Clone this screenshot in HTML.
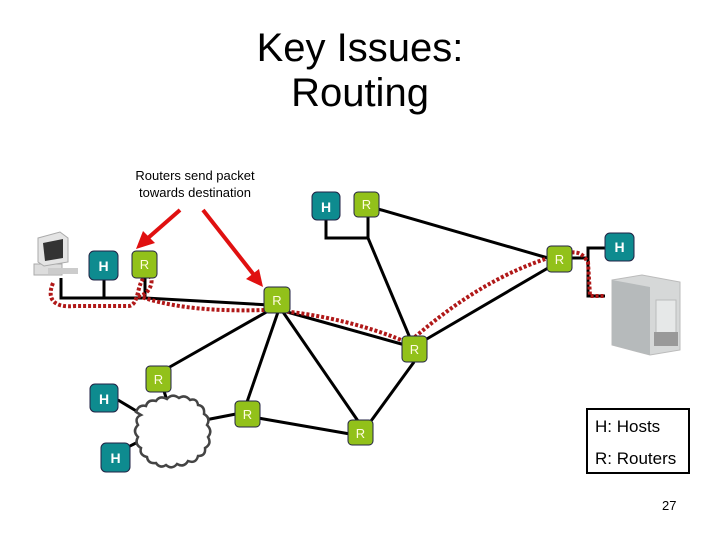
<!DOCTYPE html>
<html><head><meta charset="utf-8"><style>
html,body{margin:0;padding:0;background:#fff;}
svg{display:block;}
text{font-family:"Liberation Sans",sans-serif;}
</style></head><body>
<svg width="720" height="540" viewBox="0 0 720 540" xmlns="http://www.w3.org/2000/svg">
<rect width="720" height="540" fill="#fff"/>
<text x="360" y="61" font-size="40" text-anchor="middle">Key Issues:</text>
<text x="360" y="106" font-size="40" text-anchor="middle">Routing</text>
<text x="195" y="180" font-size="13" text-anchor="middle">Routers send packet</text>
<text x="195" y="197" font-size="13" text-anchor="middle">towards destination</text>

<!-- links -->
<g stroke="#000" stroke-width="3" fill="none">
<polyline points="61,278 61,298 145,298"/>
<line x1="104" y1="280" x2="104" y2="298"/>
<polyline points="145,278 145,298 270,305"/>
<polyline points="326,220 326,238 368,238 368,217"/>
<line x1="368" y1="238" x2="410" y2="338"/>
<line x1="378" y1="209" x2="548" y2="258"/>
<line x1="548" y1="268" x2="425" y2="340"/>
<line x1="280" y1="310" x2="405" y2="345"/>
<line x1="270" y1="310" x2="168" y2="368"/>
<line x1="278" y1="312" x2="247" y2="402"/>
<line x1="283" y1="312" x2="358" y2="421"/>
<line x1="414" y1="362" x2="371" y2="421"/>
<line x1="258" y1="418" x2="350" y2="434"/>
<line x1="236" y1="414" x2="205" y2="420"/>
<line x1="164" y1="391" x2="168" y2="404"/>
<line x1="118" y1="400" x2="138" y2="412"/>
<line x1="126" y1="448" x2="138" y2="442"/>
<polyline points="572,258 588,258 588,248 605,248"/>
<polyline points="588,258 588,296 605,296"/>
</g>
<!-- cloud -->
<path d="M136,412 q3,-8 10,-6 q2,-7 10,-5 q4,-6 11,-2 q5,-6 12,-1 q6,-4 11,2 q7,-2 8,5 q7,1 6,9 q7,4 3,11 q6,6 1,12 q4,7 -3,11 q1,8 -7,8 q-2,8 -10,5 q-4,7 -11,3 q-5,6 -11,1 q-6,4 -10,-2 q-8,1 -9,-6 q-8,-2 -6,-9 q-7,-4 -3,-11 q-6,-6 0,-12 q-4,-7 3,-10z" fill="#fff" stroke="#444" stroke-width="2.5"/>

<!-- red path -->
<path d="M53,283 C46,300 55,308 75,306 L128,306 C140,306 136,282 146,276 C156,274 152,295 138,296 M138,296 C165,305 200,312 265,310 C320,312 380,330 408,343 C440,315 490,275 555,256 C575,250 580,252 585,258 L588,262 L590,296 L605,296" fill="none" stroke="#b01818" stroke-width="4" stroke-dasharray="3,2"/>

<!-- red arrows -->
<g stroke="#e01010" stroke-width="4" fill="#e01010">
<line x1="180" y1="210" x2="148" y2="238"/>
<polygon points="136,249 143,231 155,243" stroke="none"/>
<line x1="203" y1="210" x2="254" y2="275"/>
<polygon points="263,287 246,279 259,269" stroke="none"/>
</g>

<!-- nodes -->
<g stroke="#224" stroke-width="1">
<rect x="89" y="251" width="29" height="29" rx="5" fill="#0e8b8f"/>
<rect x="312" y="192" width="28" height="28" rx="5" fill="#0e8b8f"/>
<rect x="605" y="233" width="29" height="28" rx="5" fill="#0e8b8f"/>
<rect x="90" y="384" width="28" height="28" rx="5" fill="#0e8b8f"/>
<rect x="101" y="443" width="29" height="29" rx="5" fill="#0e8b8f"/>
<rect x="132" y="251" width="25" height="27" rx="4" fill="#92c11a"/>
<rect x="264" y="287" width="26" height="26" rx="4" fill="#92c11a"/>
<rect x="354" y="192" width="25" height="25" rx="4" fill="#92c11a"/>
<rect x="547" y="246" width="25" height="26" rx="4" fill="#92c11a"/>
<rect x="402" y="336" width="25" height="26" rx="4" fill="#92c11a"/>
<rect x="146" y="366" width="25" height="26" rx="4" fill="#92c11a"/>
<rect x="235" y="401" width="25" height="26" rx="4" fill="#92c11a"/>
<rect x="348" y="420" width="25" height="25" rx="4" fill="#92c11a"/>
</g>
<g fill="#fff" font-size="14" font-weight="bold" text-anchor="middle">
<text x="103.5" y="271">H</text><text x="326" y="212">H</text><text x="619.5" y="252">H</text>
<text x="104" y="404">H</text><text x="115.5" y="463">H</text>
</g>
<g fill="#fffbe0" font-size="13" text-anchor="middle">
<text x="144.5" y="269">R</text><text x="277" y="305">R</text><text x="366.5" y="209">R</text>
<text x="559.5" y="264">R</text><text x="414.5" y="354">R</text><text x="158.5" y="384">R</text>
<text x="247.5" y="419">R</text><text x="360.5" y="438">R</text>
</g>

<!-- computer -->
<g>
<rect x="34" y="264" width="28" height="11" fill="#ddd" stroke="#aaa"/>
<polygon points="38,238 60,232 68,238 68,262 44,266 38,262" fill="#e4e4e4" stroke="#aaa"/>
<polygon points="43,243 63,239 63,258 45,261" fill="#333"/>
<rect x="48" y="268" width="30" height="6" fill="#ccc"/>
</g>
<!-- server -->
<g>
<polygon points="612,280 642,275 680,282 680,350 650,355 612,345" fill="#d6d8d8" stroke="#bbb"/>
<polygon points="612,280 650,287 650,355 612,345" fill="#b6babb"/>
<rect x="656" y="300" width="20" height="45" fill="#e6e8e8" stroke="#bbb"/>
<rect x="654" y="332" width="24" height="14" fill="#999"/>
</g>

<!-- legend -->
<rect x="587" y="409" width="102" height="64" fill="#fff" stroke="#000" stroke-width="2"/>
<text x="595" y="432" font-size="17">H: Hosts</text>
<text x="595" y="464" font-size="17">R: Routers</text>
<text x="662" y="510" font-size="13">27</text>
</svg>
</body></html>
